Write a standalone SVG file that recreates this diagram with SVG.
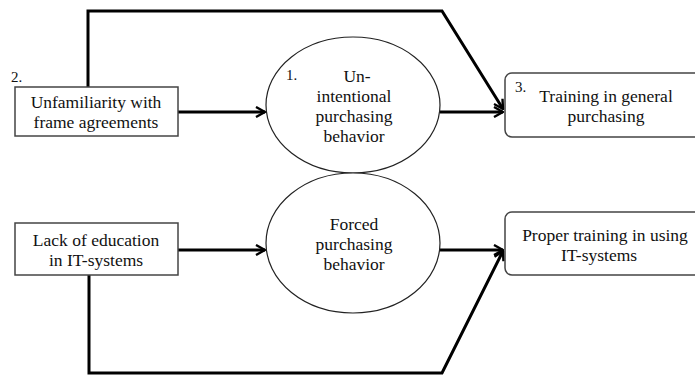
<svg xmlns="http://www.w3.org/2000/svg" width="695" height="381" viewBox="0 0 695 381">
<defs>
<style>
.box{fill:#fff;stroke:#444;stroke-width:1.5}
.ell{fill:#fff;stroke:#222;stroke-width:1.2}
.t{font-family:"Liberation Serif",serif;font-size:17.5px;fill:#111;text-anchor:middle}
.n{font-family:"Liberation Serif",serif;font-size:15px;fill:#111}
.c{fill:none;stroke:#000;stroke-width:3;stroke-linejoin:miter}
</style>
<marker id="ah" viewBox="0 0 12 12" refX="11" refY="6" markerWidth="12" markerHeight="12" markerUnits="userSpaceOnUse" orient="auto">
<polyline points="2,1 11,6 2,11" fill="none" stroke="#000" stroke-width="2.4"/>
</marker>
</defs>
<rect width="695" height="381" fill="#fff"/>
<g id="connectors">
<path class="c" d="M88,87 V11 H442 L503,109" marker-end="url(#ah)"/>
<path class="c" d="M178,112 H265" marker-end="url(#ah)"/>
<path class="c" d="M440,112 H503" marker-end="url(#ah)"/>
<path class="c" d="M178,250 H265" marker-end="url(#ah)"/>
<path class="c" d="M440,250 H503" marker-end="url(#ah)"/>
<path class="c" d="M89,275 V373 H442 L503,251" marker-end="url(#ah)"/>
</g>
<g id="node-unfamiliarity">
<text class="n" x="11" y="82">2.</text>
<rect class="box" x="15" y="87" width="163" height="49"/>
<text class="t" x="96" y="108">Unfamiliarity with</text>
<text class="t" x="96" y="128">frame agreements</text>
</g>
<g id="node-unintentional">
<ellipse class="ell" cx="353" cy="105" rx="87" ry="68"/>
<text class="n" x="286" y="80">1.</text>
<text class="t" x="357" y="82">Un-</text>
<text class="t" x="354" y="102">intentional</text>
<text class="t" x="354" y="122">purchasing</text>
<text class="t" x="354" y="142">behavior</text>
</g>
<g id="node-training-general">
<rect class="box" x="505" y="73" width="200" height="64" rx="7"/>
<text class="n" x="515" y="92">3.</text>
<text class="t" x="606" y="102">Training in general</text>
<text class="t" x="606" y="122">purchasing</text>
</g>
<g id="node-lack-education">
<rect class="box" x="15" y="223" width="163" height="52"/>
<text class="t" x="96" y="246">Lack of education</text>
<text class="t" x="96" y="266">in IT-systems</text>
</g>
<g id="node-forced">
<ellipse class="ell" cx="353" cy="243" rx="87" ry="70"/>
<text class="t" x="354" y="230">Forced</text>
<text class="t" x="354" y="250">purchasing</text>
<text class="t" x="354" y="270">behavior</text>
</g>
<g id="node-proper-training">
<rect class="box" x="505" y="212" width="200" height="63" rx="7"/>
<text class="t" x="605" y="241">Proper training in using</text>
<text class="t" x="599" y="261">IT-systems</text>
</g>
</svg>
